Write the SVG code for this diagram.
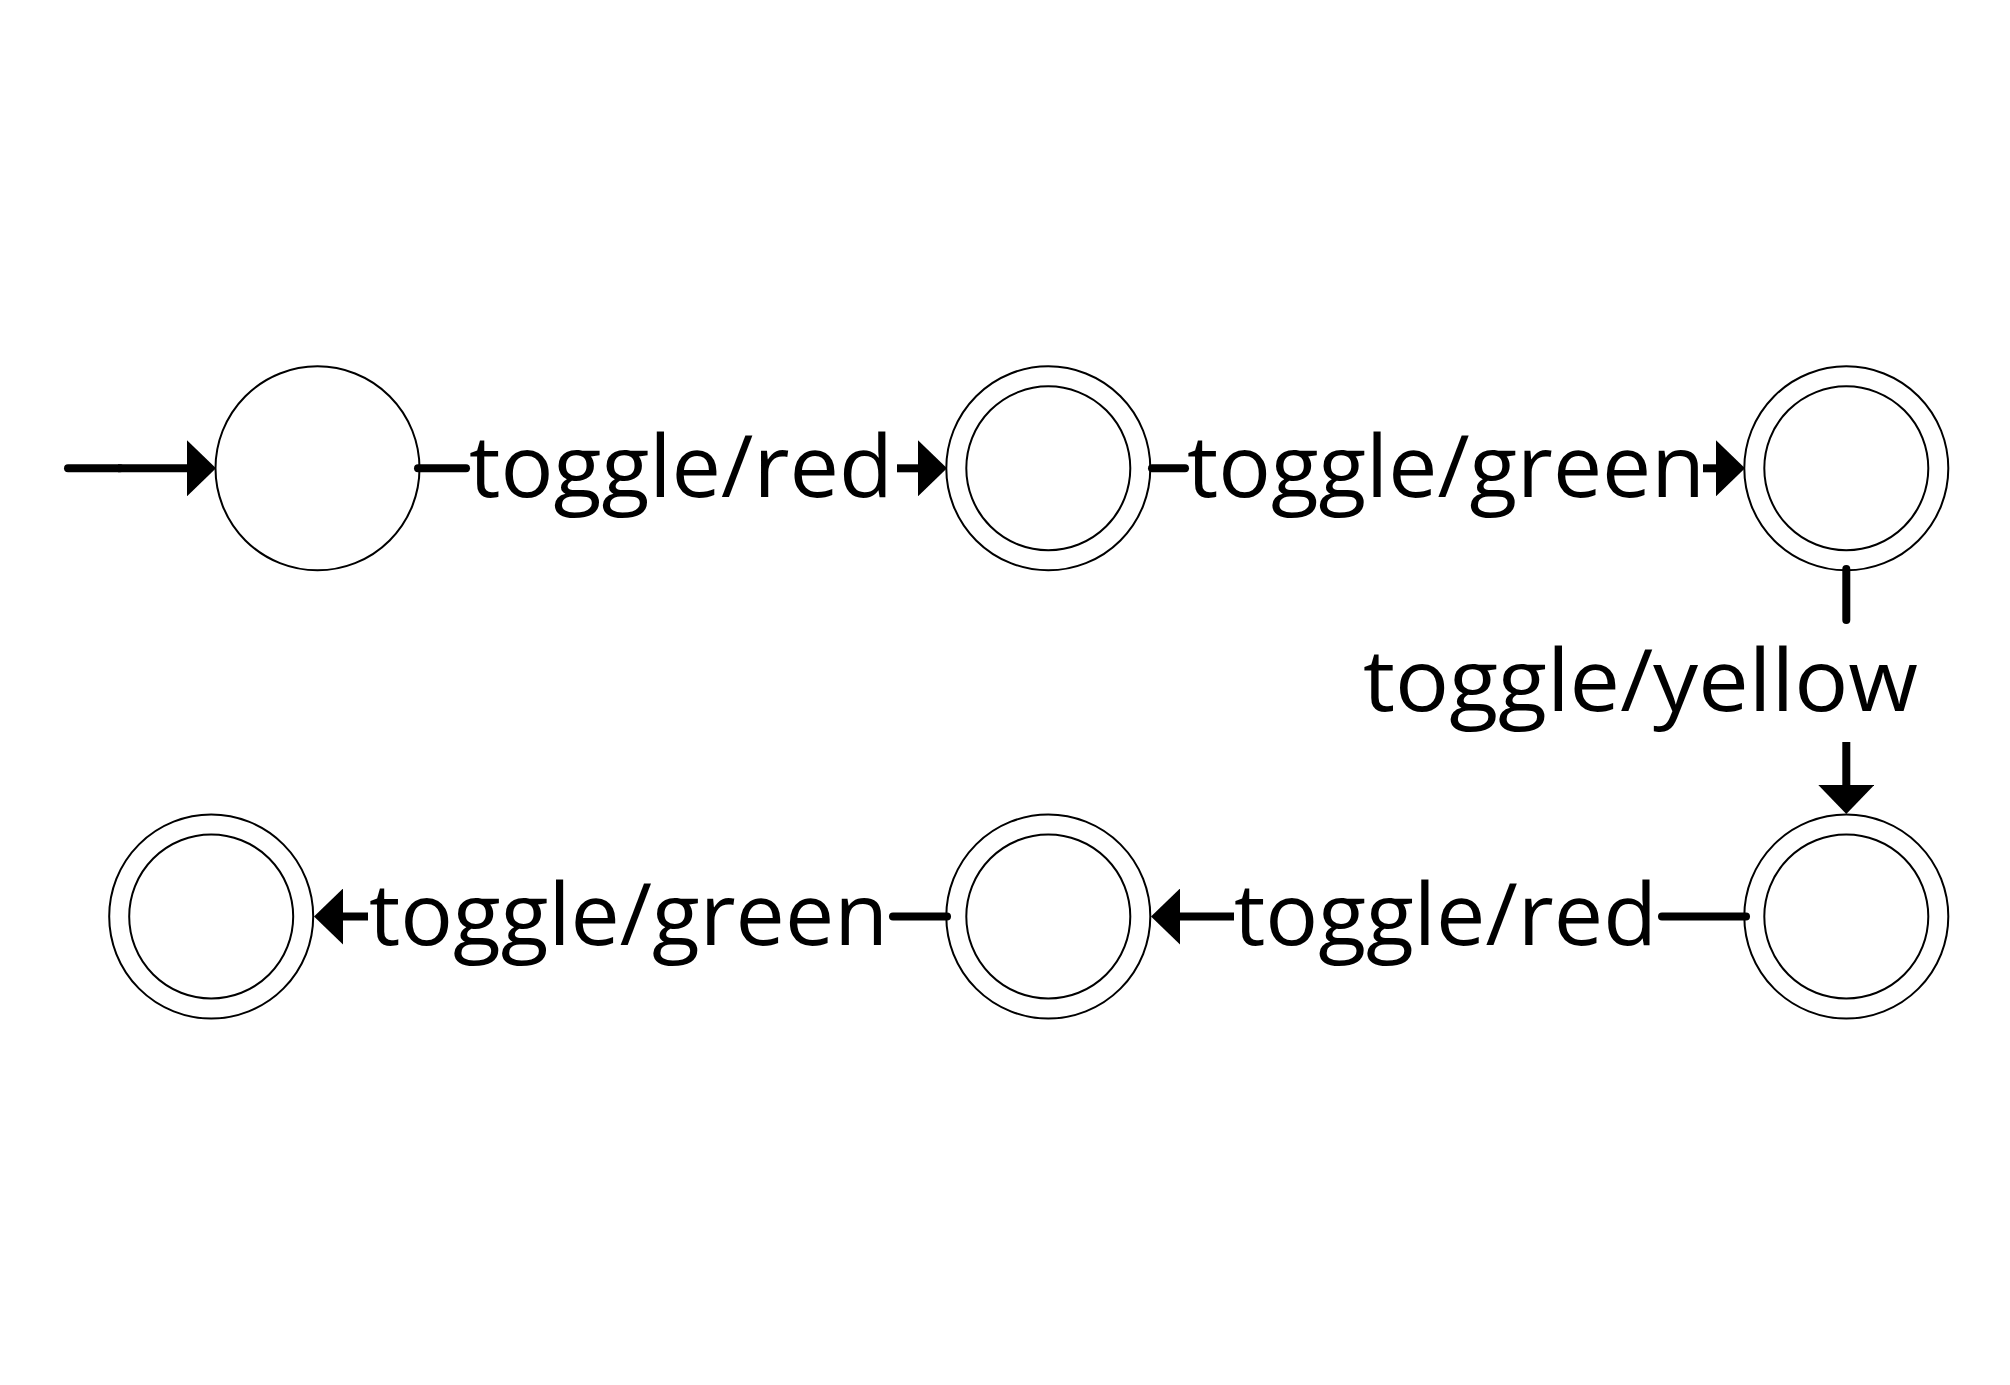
<svg xmlns="http://www.w3.org/2000/svg" width="2010" height="1385" viewBox="0 0 2010 1385">
<style>
.st{fill:none;stroke:#000;stroke-width:2}
.ln{fill:none;stroke:#000;stroke-width:8}
.stub{fill:none;stroke:#000;stroke-width:8;stroke-linecap:round}
.lbl{font-family:"Open Sans","Noto Sans","Liberation Sans",sans-serif;font-size:86px;fill:#000}
</style>
<defs>
<marker id="ah" markerUnits="userSpaceOnUse" viewBox="0 0 29 56" refX="0" refY="28" markerWidth="29" markerHeight="56" orient="auto">
<path d="M0,0 L29,28 L0,56 Z" fill="#000"/>
</marker>
</defs>
<rect width="2010" height="1385" fill="#fff"/>
<g id="s1"><circle class="st" cx="317.5" cy="468.3" r="102"/></g>
<g id="s2"><circle class="st" cx="1048.3" cy="468.3" r="102"/><circle class="st" cx="1048.3" cy="468.3" r="82"/></g>
<g id="s3"><circle class="st" cx="1846.3" cy="468.3" r="102"/><circle class="st" cx="1846.3" cy="468.3" r="82"/></g>
<g id="s4"><circle class="st" cx="1846.3" cy="916.5" r="102"/><circle class="st" cx="1846.3" cy="916.5" r="82"/></g>
<g id="s5"><circle class="st" cx="1048.3" cy="916.5" r="102"/><circle class="st" cx="1048.3" cy="916.5" r="82"/></g>
<g id="s6"><circle class="st" cx="211.2" cy="916.5" r="102"/><circle class="st" cx="211.2" cy="916.5" r="82"/></g>
<g id="connectors">
<path class="stub" d="M68,468.3 H120"/>
<path class="ln" d="M118,468.3 H187" marker-end="url(#ah)"/>
<path class="stub" d="M418,468.3 H466"/>
<path class="ln" d="M897,468.3 H918" marker-end="url(#ah)"/>
<path class="stub" d="M1152,468.3 H1185"/>
<path class="ln" d="M1703,468.3 H1716" marker-end="url(#ah)"/>
<path class="stub" d="M1846.3,569 V620"/>
<path class="ln" d="M1846.3,742 V785" marker-end="url(#ah)"/>
<path class="stub" d="M1746,916.5 H1662"/>
<path class="ln" d="M1234,916.5 H1180" marker-end="url(#ah)"/>
<path class="stub" d="M947,916.5 H893"/>
<path class="ln" d="M368,916.5 H343" marker-end="url(#ah)"/>
<text class="lbl" x="469" y="497" textLength="424" lengthAdjust="spacingAndGlyphs">toggle/red</text>
<text class="lbl" x="1187" y="497" textLength="518" lengthAdjust="spacingAndGlyphs">toggle/green</text>
<text class="lbl" x="1363" y="711" textLength="555" lengthAdjust="spacingAndGlyphs">toggle/yellow</text>
<text class="lbl" x="1234" y="945" textLength="423" lengthAdjust="spacingAndGlyphs">toggle/red</text>
<text class="lbl" x="369" y="945" textLength="519" lengthAdjust="spacingAndGlyphs">toggle/green</text>
</g>
</svg>
